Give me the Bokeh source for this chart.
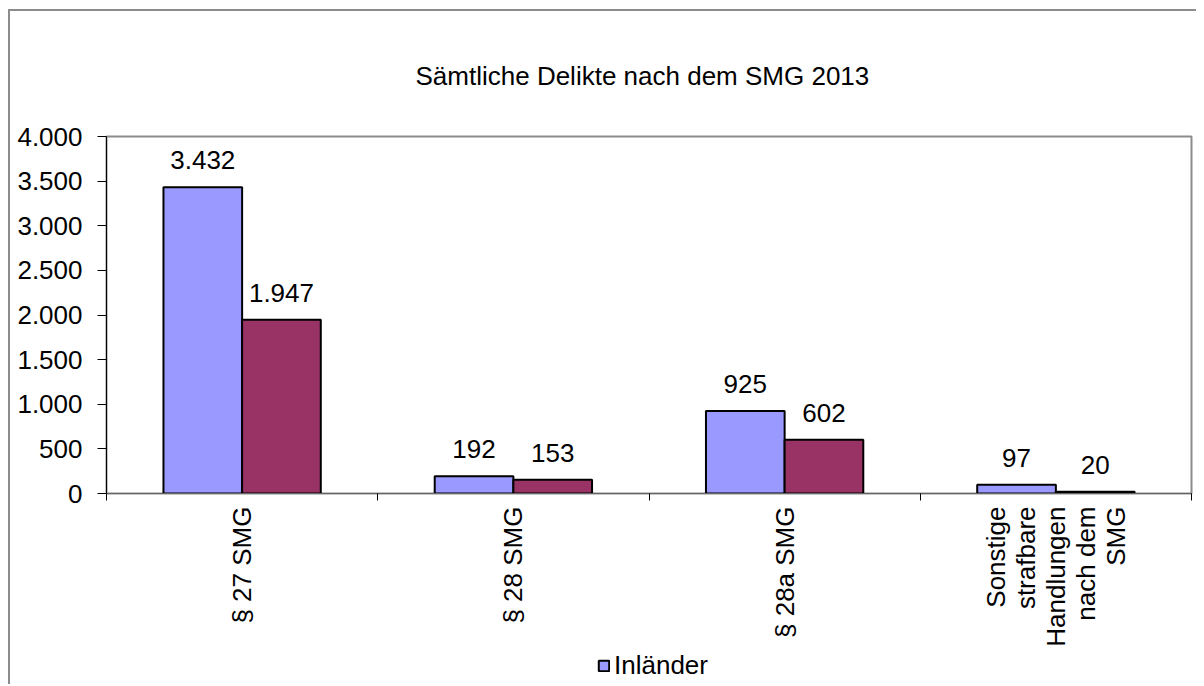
import math
from bokeh.plotting import figure
from bokeh.layouts import column
from bokeh.models import (Range1d, FixedTicker, Legend, LegendItem, ColumnDataSource)
from bokeh.embed import file_html
from bokeh.resources import INLINE
from bokeh.core.properties import value

# ---- data ----
title_text = "Sämtliche Delikte nach dem SMG 2013"
categories = ["§ 27 SMG", "§ 28 SMG", "§ 28a SMG",
              "Sonstige\nstrafbare\nHandlungen\nnach dem\nSMG"]
series_names = ["Inländer", "Fremde"]
inlaender = [3432, 192, 925, 97]
fremde = [1947, 153, 602, 20]
y_ticks = [0, 500, 1000, 1500, 2000, 2500, 3000, 3500, 4000]

# ---- styles ----
FONT = "Liberation Sans"
FS = "26px"
C1 = "#9999FF"
C2 = "#993366"
BAR_W = 0.29


def fmt(v):
    return f"{v:,}".replace(",", ".")


n = len(categories)
centers = [i + 0.5 for i in range(n)]

p = figure(width=1186, height=639,
           x_range=Range1d(0, n), y_range=Range1d(0, max(y_ticks)),
           output_backend="svg", toolbar_location=None,
           frame_width=1085, frame_height=357,
           min_border_left=96, min_border_right=5,
           min_border_top=125, min_border_bottom=157)

p.title.text = title_text
p.title.align = "left"
p.title.offset = 309
p.title.text_font = FONT
p.title.text_font_size = FS
p.title.text_font_style = "normal"
p.title.text_color = "black"
p.title.standoff = 92

p.xgrid.visible = False
p.ygrid.visible = False
p.outline_line_color = "#8c8c8c"
p.outline_line_width = 2
p.background_fill_color = "white"
p.border_fill_color = "white"

src1 = ColumnDataSource(dict(x=[c - BAR_W / 2 for c in centers], top=inlaender,
                             lab=[fmt(v) for v in inlaender]))
src2 = ColumnDataSource(dict(x=[c + BAR_W / 2 for c in centers], top=fremde,
                             lab=[fmt(v) for v in fremde]))

r1 = p.vbar(x="x", top="top", bottom=0, width=BAR_W, source=src1,
            fill_color=C1, line_color="black", line_width=2)
r2 = p.vbar(x="x", top="top", bottom=0, width=BAR_W, source=src2,
            fill_color=C2, line_color="black", line_width=2)

for s in (src1, src2):
    p.text(x="x", y="top", text="lab", source=s,
           text_font=value(FONT), text_font_size=FS, text_color="black",
           text_align="center", text_baseline="bottom", y_offset=-18)

# x axis
xa = p.xaxis[0]
xa.ticker = FixedTicker(ticks=centers, minor_ticks=list(range(n + 1)))
xa.major_label_overrides = {c: cat for c, cat in zip(centers, categories)}
xa.major_label_orientation = math.pi / 2
xa.major_tick_out = 0
xa.major_tick_in = 0
xa.minor_tick_out = 7
xa.minor_tick_in = 0
xa.minor_tick_line_color = "black"
xa.axis_line_color = "#666666"
xa.axis_line_width = 1
xa.major_label_standoff = 6
xa.major_label_text_font = FONT
xa.major_label_text_font_size = FS
xa.major_label_text_line_height = 1.0
xa.major_label_text_color = "black"

# y axis
ya = p.yaxis[0]
ya.ticker = FixedTicker(ticks=y_ticks)
ya.major_label_overrides = {t: fmt(t) for t in y_ticks}
ya.major_tick_out = 9
ya.major_tick_in = 0
ya.minor_tick_out = 0
ya.minor_tick_in = 0
ya.major_tick_line_color = "black"
ya.axis_line_color = "black"
ya.major_label_standoff = 15
ya.major_label_text_font = FONT
ya.major_label_text_font_size = FS
ya.major_label_text_color = "black"

# legend strip below the chart (only the first series is visible in the original)
pl = figure(width=1186, height=34, x_range=Range1d(0, 1), y_range=Range1d(0, 1),
            output_backend="svg", toolbar_location=None,
            x_axis_type=None, y_axis_type=None,
            min_border_left=0, min_border_right=0, min_border_top=0, min_border_bottom=0)
pl.xgrid.visible = False
pl.ygrid.visible = False
pl.outline_line_color = None
pl.background_fill_color = "white"
pl.border_fill_color = "white"
# legend swatch renderer: NaN data, so nothing is drawn except its legend glyph
swatch = pl.vbar(x=[float("nan")], top=[float("nan")], width=BAR_W, fill_color=C1,
                 line_color="black", line_width=2)

legend = Legend(items=[LegendItem(label=series_names[0], renderers=[swatch])],
                location=(491, 3), orientation="horizontal",
                glyph_width=13, glyph_height=13, label_standoff=4,
                padding=0, margin=0, border_line_color=None,
                background_fill_alpha=0,
                label_text_font=FONT, label_text_font_size=FS,
                label_text_color="black")
pl.add_layout(legend, "center")

layout = column(p, pl, spacing=0,
                styles={"margin-left": "8px", "margin-top": "9px",
                        "border-left": "2px solid #8c8c8c",
                        "border-top": "2px solid #8c8c8c"})

open("out.html", "w").write(file_html(layout, INLINE))
